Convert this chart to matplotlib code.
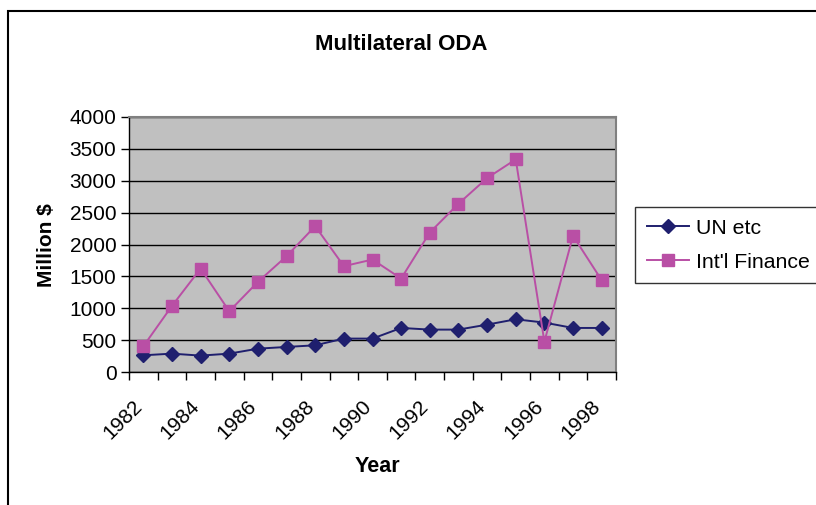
import matplotlib
matplotlib.use("Agg")
import matplotlib.pyplot as plt
from matplotlib.patches import Rectangle

years = list(range(1982, 1999))
un_etc = [262, 288, 257, 288, 366, 393, 419, 524, 524, 691, 665, 665, 743, 827, 775, 691, 691]
intl_finance = [403, 1037, 1623, 953, 1414, 1817, 2288, 1660, 1764, 1466, 2188, 2639, 3042, 3335, 476, 2136, 1440]
yticks = [0, 500, 1000, 1500, 2000, 2500, 3000, 3500, 4000]

plt.rcParams['font.family'] = ['Liberation Sans', 'DejaVu Sans']

W, H = 816, 505
fig = plt.figure(figsize=(W / 100, H / 100), dpi=100)

# plot area in pixels: left 129, right 616, top 117, bottom 372
ax = fig.add_axes([129 / W, 1 - 372 / H, 487 / W, 255 / H])
ax.set_facecolor('#C0C0C0')

x = list(range(len(years)))
ax.plot(x, un_etc, color='#1F1F6E', lw=1.4, marker='D', ms=7.5,
        label='UN etc', zorder=3)
ax.plot(x, intl_finance, color='#B94FA5', lw=1.4, marker='s', ms=8.5,
        label="Int'l Finance", zorder=3)

ax.set_xlim(-0.5, len(years) - 0.5)
ax.set_ylim(0, 4000)
ax.set_yticks(yticks)
ax.tick_params(axis='y', labelsize=15, length=6, width=1, direction='out', pad=3)
ax.yaxis.grid(True, color='black', lw=1)
ax.set_axisbelow(True)

# category ticks at boundaries, labels every other year
ax.set_xticks([i - 0.5 for i in range(len(years) + 1)])
ax.set_xticklabels([])
ax.tick_params(axis='x', length=6, width=1, direction='out')
for i, yr in enumerate(years):
    if i % 2 == 0:
        ax.text(i - 0.15, -0.122, str(yr), rotation=45, ha='right', va='center',
                fontsize=15, rotation_mode='anchor',
                transform=ax.get_xaxis_transform())

for side in ['top', 'right']:
    ax.spines[side].set_color('#808080')
    ax.spines[side].set_linewidth(1.5)
for side in ['left', 'bottom']:
    ax.spines[side].set_color('black')
    ax.spines[side].set_linewidth(1)

fig.text(401 / W, 1 - 45 / H, 'Multilateral ODA', ha='center', va='center',
         fontsize=16, fontweight='bold')
fig.text(46 / W, 1 - 245 / H, 'Million $', ha='center', va='center',
         rotation=90, fontsize=15, fontweight='bold')
fig.text(377 / W, 1 - 467 / H, 'Year', ha='center', va='center',
         fontsize=15.5, fontweight='bold')

leg = fig.legend(loc='upper left', bbox_to_anchor=(635 / W, 1 - 207 / H),
                 fontsize=15.3, frameon=True, fancybox=False, edgecolor='black',
                 handlelength=2.0, handletextpad=0.33, borderpad=0.55,
                 labelspacing=0.7, borderaxespad=0)
leg.get_frame().set_linewidth(1)

fig.patches.append(Rectangle((8 / W, -0.1), 2, 1.1 - 11 / H, fill=False,
                             edgecolor='black', lw=1.5,
                             transform=fig.transFigure, figure=fig))

fig.savefig('out.png', dpi=100)
